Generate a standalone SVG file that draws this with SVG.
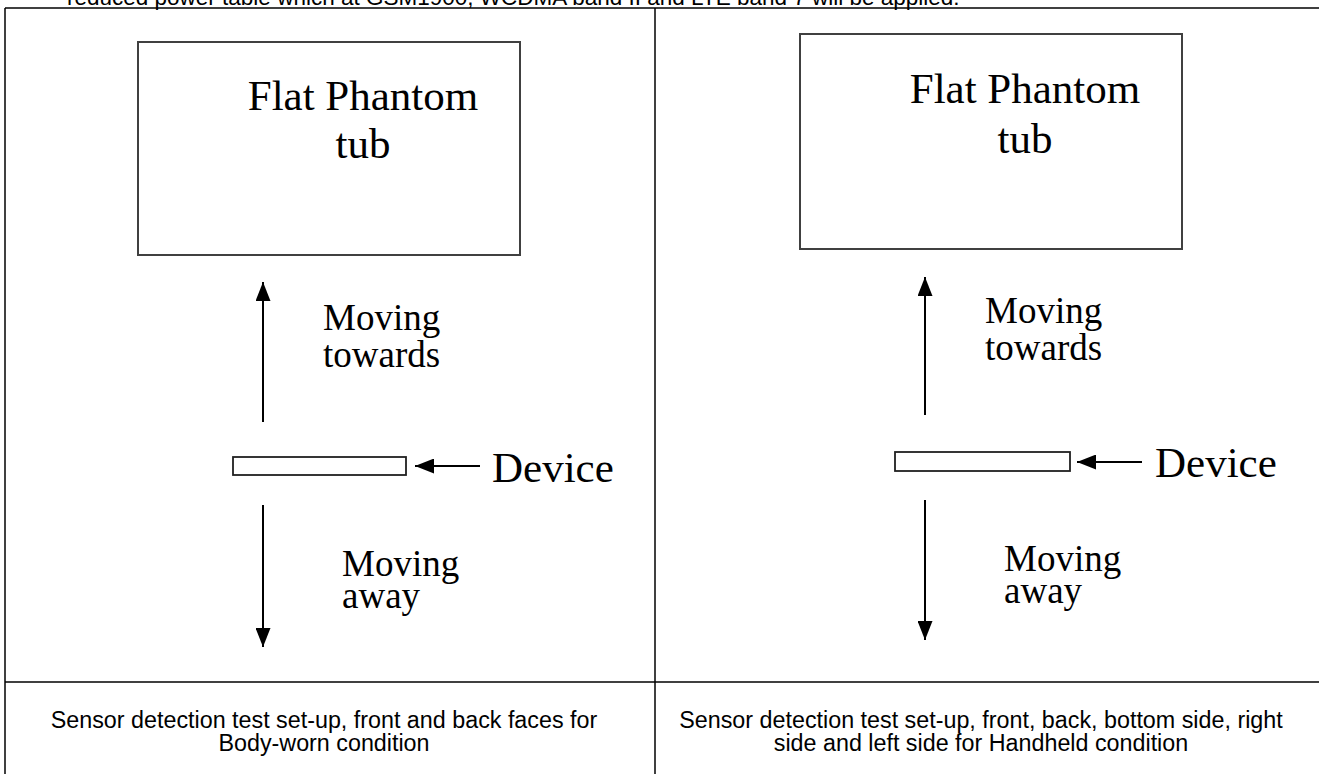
<svg xmlns="http://www.w3.org/2000/svg" width="1319" height="774" viewBox="0 0 1319 774">
<style>
.serif{font-family:"Liberation Serif","Times New Roman",serif;fill:#000}
.big{font-size:43px}
.mid{font-size:37px}
.cap{font-family:"Liberation Sans",Arial,sans-serif;font-size:23.3px;fill:#000}
.top{font-family:"Liberation Sans",Arial,sans-serif;font-size:22.5px;fill:#000}
.tbl{stroke:#000;stroke-width:1.5;fill:none}
.tub{fill:#fff;stroke:#404040;stroke-width:2}
.dev{fill:#fff;stroke:#202020;stroke-width:1.8}
.arr{stroke:#000;stroke-width:2;fill:none;marker-end:url(#head)}
</style>
<defs>
<marker id="head" markerUnits="userSpaceOnUse" markerWidth="19" markerHeight="15" viewBox="0 0 19 15" refX="19" refY="7.5" orient="auto">
<path d="M0,0 L19,7.5 L0,15 z" fill="#000"/>
</marker>
</defs>
<rect width="1319" height="774" fill="#fff"/>
<text class="top" x="67" y="5">reduced power table which at GSM1900, WCDMA band II and LTE band 7 will be applied.</text>
<g id="table">
<line class="tbl" x1="5" y1="8" x2="1319" y2="8"/>
<line class="tbl" x1="5" y1="8" x2="5" y2="774"/>
<line class="tbl" x1="655" y1="8" x2="655" y2="774"/>
<line class="tbl" x1="5" y1="682" x2="1319" y2="682"/>
</g>
<g id="tub-left">
<rect class="tub" x="138" y="42" width="382" height="213"/>
<text class="serif big" x="363" y="110" text-anchor="middle">Flat Phantom</text>
<text class="serif big" x="363" y="158" text-anchor="middle">tub</text>
</g>
<g id="device-left">
<rect class="dev" x="233" y="457" width="173" height="18"/>
<text class="serif big" x="492" y="482">Device</text>
</g>
<g id="label-left-towards">
<text class="serif mid" x="323" y="330">Moving</text>
<text class="serif mid" x="323" y="367">towards</text>
</g>
<g id="label-left-away">
<text class="serif mid" x="342" y="576">Moving</text>
<text class="serif mid" x="342" y="608">away</text>
</g>
<g id="tub-right">
<rect class="tub" x="800" y="34" width="382" height="215"/>
<text class="serif big" x="1025" y="103" text-anchor="middle">Flat Phantom</text>
<text class="serif big" x="1025" y="153" text-anchor="middle">tub</text>
</g>
<g id="device-right">
<rect class="dev" x="895" y="452" width="175" height="19"/>
<text class="serif big" x="1155" y="477">Device</text>
</g>
<g id="label-right-towards">
<text class="serif mid" x="985" y="323">Moving</text>
<text class="serif mid" x="985" y="360">towards</text>
</g>
<g id="label-right-away">
<text class="serif mid" x="1004" y="571">Moving</text>
<text class="serif mid" x="1004" y="603">away</text>
</g>
<g id="caption-left">
<text class="cap" x="324" y="728" text-anchor="middle">Sensor detection test set-up, front and back faces for</text>
<text class="cap" x="324" y="751" text-anchor="middle">Body-worn condition</text>
</g>
<g id="caption-right">
<text class="cap" x="981" y="728" text-anchor="middle">Sensor detection test set-up, front, back, bottom side, right</text>
<text class="cap" x="981" y="751" text-anchor="middle">side and left side for Handheld condition</text>
</g>
<g id="connectors">
<line class="arr" x1="263" y1="422" x2="263" y2="282"/>
<line class="arr" x1="263" y1="505" x2="263" y2="647"/>
<line class="arr" x1="480" y1="466" x2="415" y2="466"/>
<line class="arr" x1="925" y1="415" x2="925" y2="277"/>
<line class="arr" x1="925" y1="500" x2="925" y2="640"/>
<line class="arr" x1="1142" y1="462" x2="1077" y2="462"/>
</g>
</svg>
